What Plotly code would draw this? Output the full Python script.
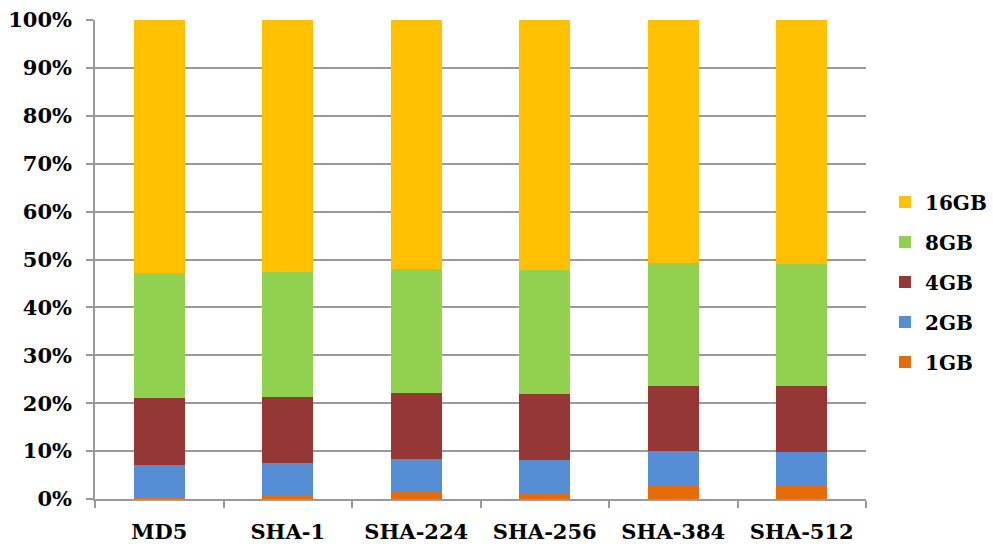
import plotly.graph_objects as go

categories = ["MD5", "SHA-1", "SHA-224", "SHA-256", "SHA-384", "SHA-512"]
gb1 = [0.35, 0.7, 1.5, 1.3, 2.9, 2.9]
gb2 = [6.75, 6.8, 6.8, 6.8, 7.1, 7.0]
gb4 = [14.0, 13.8, 13.8, 13.8, 13.6, 13.7]
gb8 = [26.1, 26.1, 25.85, 25.9, 25.6, 25.5]
gb16 = [52.8, 52.6, 52.05, 52.2, 50.8, 50.9]
series_names = ["1GB", "2GB", "4GB", "8GB", "16GB"]
series_values = [gb1, gb2, gb4, gb8, gb16]
colors = ["#E46C0A", "#558ED5", "#953735", "#92D050", "#FFC000"]
tick_vals = [0, 10, 20, 30, 40, 50, 60, 70, 80, 90, 100]
tick_text = [f"{v}%" for v in tick_vals]

font_family = "DejaVu Serif"
axis_font = dict(family=font_family, size=21, color="black", weight="bold")
grid_col = "#9a9a9a"

fig = go.Figure()
n = len(series_names)
for i, (name, vals, col) in enumerate(zip(series_names, series_values, colors)):
    fig.add_trace(go.Bar(
        x=categories, y=vals, name=name, marker_color=col,
        marker_line_width=0, legendgroup=name, legendrank=n - i,
    ))

fig.update_layout(
    barmode="stack",
    bargap=0.6,
    width=993, height=547,
    margin=dict(l=95, r=127, t=20, b=48, autoexpand=False),
    plot_bgcolor="white", paper_bgcolor="white",
    font=dict(family=font_family, size=20, color="black"),
    legend=dict(
        traceorder="grouped", tracegroupgap=11,
        x=1.0246, y=0.453, xanchor="left", yanchor="middle",
        font=dict(family=font_family, size=20, color="black", weight="bold"),
        itemwidth=30,
    ),
    showlegend=True,
)
fig.update_yaxes(
    range=[0, 100], tickvals=tick_vals, ticktext=tick_text,
    showgrid=True, gridcolor=grid_col, gridwidth=1.5,
    showline=True, linecolor=grid_col, linewidth=1.5,
    ticks="outside", ticklen=7, tickcolor=grid_col, tickwidth=1.5,
    tickfont=axis_font, ticklabelstandoff=10,
    zeroline=False,
)
fig.update_xaxes(
    showline=True, linecolor=grid_col, linewidth=1.5,
    ticks="outside", ticklen=7, tickcolor=grid_col, tickwidth=1.5,
    tickson="boundaries",
    tickfont=axis_font, ticklabelstandoff=13,
)

fig.write_html(
    "out.html",
    config={"displayModeBar": False},
    post_script="document.body.style.margin='0';document.body.style.overflow='hidden';",
)
